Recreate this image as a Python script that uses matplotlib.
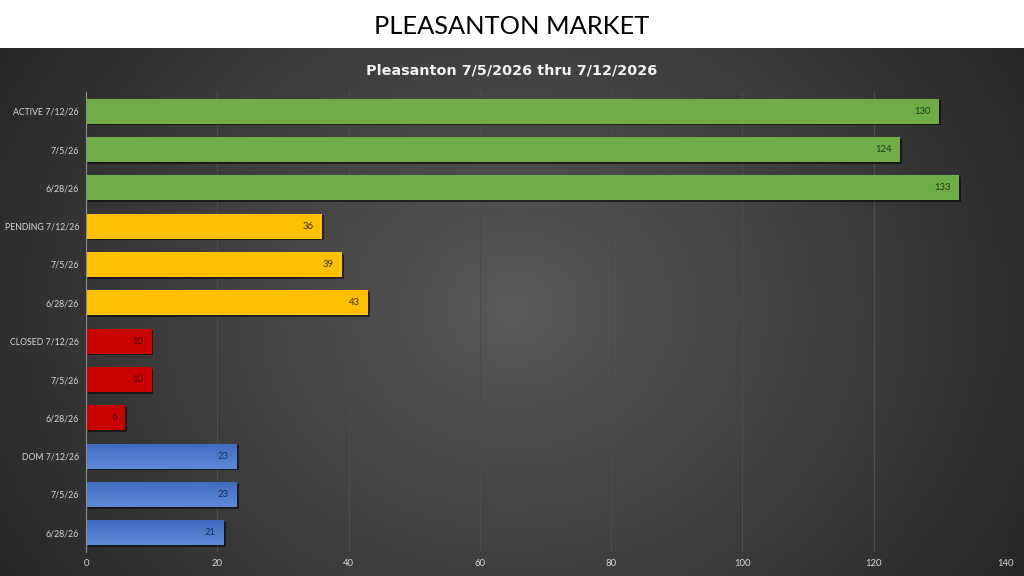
import numpy as np
import matplotlib
matplotlib.use("Agg")
import matplotlib.pyplot as plt
import matplotlib.patheffects as pe

# chart values (top row first)
labels = ["ACTIVE 7/12/26", "7/5/26", "6/28/26",
          "PENDING 7/12/26", "7/5/26", "6/28/26",
          "CLOSED 7/12/26", "7/5/26", "6/28/26",
          "DOM 7/12/26", "7/5/26", "6/28/26"]
values = [130, 124, 133, 36, 39, 43, 10, 10, 6, 23, 23, 21]
groups = ["active"] * 3 + ["pending"] * 3 + ["closed"] * 3 + ["dom"] * 3
x_ticks = [0, 20, 40, 60, 80, 100, 120, 140]

bar_colors = {"active": "#70ad47", "pending": "#ffc000",
              "closed": "#c80000", "dom": "#4a78cc"}
label_colors = {"active": "#203a12", "pending": "#3d2e00",
                "closed": "#4a0000", "dom": "#1a2f5c"}

plt.rcParams["font.family"] = ["Lato", "DejaVu Sans"]

fig = plt.figure(figsize=(10.24, 5.76), dpi=100)
fig.patch.set_facecolor("white")

# dark radial gradient background below the white title band
band = 48 / 576
bg = fig.add_axes([0, 0, 1, 1 - band])
bg.set_axis_off()
yy, xx = np.mgrid[0:264, 0:512]
r = np.sqrt(((xx - 256) / 300.0) ** 2 + ((yy - 130) / 260.0) ** 2)
shade = np.clip(0.35 - 0.20 * r, 0.12, 0.35)
bg.imshow(np.dstack([shade] * 3), aspect="auto", extent=[0, 1, 0, 1])
bg.set_xlim(0, 1)
bg.set_ylim(0, 1)

fig.text(0.5, 1 - 27 / 576, "PLEASANTON MARKET", ha="center", va="center",
         fontsize=18.3, color="black")
fig.text(0.5, 1 - 70 / 576, "Pleasanton 7/5/2026 thru 7/12/2026",
         ha="center", va="center", fontsize=10.4, fontweight="bold",
         color="#f2f2f2", family="DejaVu Sans")

ax = fig.add_axes([86 / 1024, 1 - 552 / 576, (1005 - 86) / 1024, 460 / 576])
ax.set_facecolor("none")

pos = np.arange(len(values))
cols = [bar_colors[g] for g in groups]
bars = ax.barh(pos, values, height=0.66, color=cols, zorder=3)
for b in bars:
    b.set_path_effects([pe.SimplePatchShadow(offset=(1.2, -1.2),
                                             shadow_rgbFace="black", alpha=0.55),
                        pe.Normal()])

# soft vertical gradient on the blue bars
grad = np.linspace(0, 1, 50).reshape(-1, 1)
for b, g in zip(bars, groups):
    if g != "dom":
        continue
    x0, y0 = b.get_x(), b.get_y()
    w, h = b.get_width(), b.get_height()
    img = np.dstack([0.25 + 0.12 * grad, 0.42 + 0.12 * grad, 0.75 + 0.10 * grad])
    im = ax.imshow(img, extent=[x0, x0 + w, y0 + h, y0], aspect="auto",
                   origin="upper", zorder=4)
    im.set_clip_path(b)

for v, p, g in zip(values, pos, groups):
    ax.annotate(str(v), (v, p), xytext=(-6, 0), textcoords="offset points",
                ha="right", va="center", fontsize=6.8, color=label_colors[g],
                zorder=5)

ax.set_xlim(0, 140)
ax.set_ylim(len(values) - 0.5, -0.5)
ax.set_xticks(x_ticks)
ax.set_yticks(pos)
ax.set_yticklabels(labels)
ax.tick_params(axis="x", length=0, labelsize=6.8, colors="#d9d9d9", pad=5)
ax.tick_params(axis="y", length=0, labelsize=6.3, colors="#d9d9d9", pad=5)
ax.grid(axis="x", color="#4c4c4c", linewidth=0.8, zorder=0)
for s in ["top", "right", "bottom"]:
    ax.spines[s].set_visible(False)
ax.spines["left"].set_color("#8c8c8c")
ax.spines["left"].set_zorder(6)

fig.savefig("out.png", dpi=100)
